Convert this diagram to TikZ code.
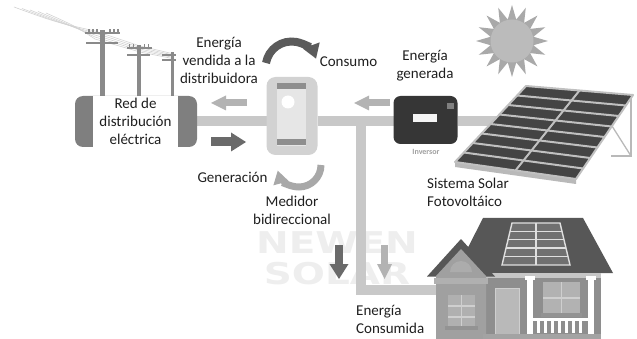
\documentclass[tikz,border=0pt]{standalone}
\usepackage{fontspec}
\setmainfont{Carlito}
\newfontfamily\markfont{DejaVu Sans}
\usetikzlibrary{arrows.meta,calc,backgrounds,shapes.geometric}

\definecolor{ink}{HTML}{1F1F1F}
\definecolor{busgray}{HTML}{C8C8C8}
\definecolor{gridend}{HTML}{7F7F7F}
\definecolor{polegray}{HTML}{8A8A8A}
\definecolor{meterout}{HTML}{D2D2D2}
\definecolor{meterin}{HTML}{E6E6E6}
\definecolor{meterbar}{HTML}{8E8E8E}
\definecolor{arrdark}{HTML}{6A6A6A}
\definecolor{arrlight}{HTML}{B3B3B3}
\definecolor{curvedark}{HTML}{5B5B5B}
\definecolor{curvelight}{HTML}{A8A8A8}
\definecolor{invcol}{HTML}{363636}
\definecolor{cellgray}{HTML}{444444}
\definecolor{panelline}{HTML}{C0C0C0}
\definecolor{sunray}{HTML}{A9A9A9}
\definecolor{suncore}{HTML}{BBBBBB}
\definecolor{roofgray}{HTML}{575757}
\definecolor{wallwing}{HTML}{A0A0A0}
\definecolor{wallmain}{HTML}{8E8E8E}
\definecolor{markgray}{HTML}{EEEEEE}

\begin{document}
\begin{tikzpicture}[x=1pt,y=-1pt,
  lbl/.style={font=\fontsize{15}{18}\selectfont, text=ink, inner sep=0pt, align=center},
  lbll/.style={lbl, align=left, anchor=west},
  flow/.style={draw=busgray, line width=10pt},
  thinarrow/.style={draw=arrlight, line width=7pt, -{Triangle[length=15pt,width=15pt,line width=0pt]}},
  thickarrow/.style={draw=arrdark, line width=9pt, -{Triangle[length=15pt,width=19pt,line width=0pt]}},
  box/.style={inner sep=0pt, outer sep=0pt},
  wire/.style={draw=gray!35, line width=0.6pt},
  cellline/.style={draw=panelline, line width=2pt},
  roofline/.style={draw=gray!25, line width=1.4pt},
  markstyle/.style={font=\markfont\bfseries\fontsize{30}{30}\selectfont, text=markgray, inner sep=0pt},
]
\useasboundingbox (0,0) rectangle (637,339);

% ---------- power poles and wires ----------
\foreach \i in {0,...,4}{
  \draw[wire] ({14+8*\i},{7+1.5*\i}) .. controls ({55+5*\i},{22+\i}) .. ({95},{31+2*\i}) -- (140,{46+1.5*\i}) -- (174,{54+1.2*\i});
}
\fill[polegray] (100,30) rectangle (105,97);
\fill[polegray] (85,32) rectangle (120,34.5);
\fill[polegray] (86,42) rectangle (118,44.5);
\fill[polegray] (137,45) rectangle (141,97);
\fill[polegray] (127,47) rectangle (152,49);
\fill[polegray] (127,54) rectangle (150,56);
\fill[polegray] (171,52) rectangle (174,97);
\fill[polegray] (162,54.5) rectangle (176,56.5);
\fill[polegray] (162,59.5) rectangle (176,61.5);
\foreach \x in {88,92,96,109,113,117}{\fill[polegray] (\x,29) rectangle (\x+1.5,32);}
\foreach \x in {129,133,144,148}{\fill[polegray] (\x,44.5) rectangle (\x+1.3,47);}

% ---------- grid box ----------
\node[box, fill=gridend, rounded corners=8pt, minimum width=122pt, minimum height=51pt] (grid) at (136,121.5) {};
\node[box, fill=white, minimum width=85pt, minimum height=51pt, lbl] (gridlbl) at (135.5,121.5) {Red de\\distribución\\eléctrica};

% ---------- bidirectional meter ----------
\node[box, fill=meterout, rounded corners=9pt, minimum width=51pt, minimum height=78pt] (meter) at (292,116) {};
\fill[meterin] (277,83) rectangle (306,146);
\fill[meterbar] (277,83) rectangle (306,89);
\fill[meterbar] (277,139) rectangle (306,145);
\fill[white] (288,102) circle[radius=6.5];

% ---------- inverter ----------
\node[box, fill=invcol, rounded corners=7pt, minimum width=64pt, minimum height=48pt] (inv) at (425.5,120) {};
\fill[white!92!gray] (413,114) rectangle (437,122);
\fill[gray] (447,103) rectangle (454,109);
\node[box, font=\bfseries\fontsize{8}{8}\selectfont, text=gray!75] (invlbl) at (426,152) {Inversor};

% ---------- sun ----------
\node[box, star, star points=16, star point ratio=1.65, minimum size=72pt, fill=sunray] (sunrays) at (512,41) {};
\node[box, circle, fill=suncore, minimum size=43pt] (sun) at (512,41) {};

% ---------- solar array ----------
\coordinate (pTL) at (526,86);
\coordinate (pTR) at (633,95);
\coordinate (pBR) at (576,179);
\coordinate (pBL) at (455,162);
\coordinate (panW) at (497,121.5);
\draw[gray!55, line width=1.3pt] (631,96) -- (631,156) -- (611,156);
\draw[gray!55, line width=1.3pt] (612,126) -- (631,156);
\fill[gray!55] (pBL) -- (pBR) -- ($(pBR)+(0,5)$) -- ($(pBL)+(0,5)$) -- cycle;
\fill[cellgray] (pTL) -- (pTR) -- (pBR) -- (pBL) -- cycle;
\foreach \v [evaluate=\v as \f using \v/8] in {1,...,7}{
  \draw[cellline] ($(pTL)!\f!(pBL)$) -- ($(pTR)!\f!(pBR)$);
}
\draw[cellline] ($(pTL)!0.5!(pTR)$) -- ($(pBL)!0.5!(pBR)$);
\draw[cellline, line join=round] (pTL) -- (pTR) -- (pBR) -- (pBL) -- cycle;

% ---------- house ----------
\coordinate (houseW) at (445,290);
\fill[roofgray] (483,218) -- (583,218) -- (613,273) -- (455,273) -- cycle;
\fill[wallmain] (485,273) rectangle (601,339);
\fill[gray!45] (486,273) rectangle (601,278);
\fill[roofgray] (427,276.5) -- (461,239) -- (495,276.5) -- cycle;
\fill[wallwing] (436,339) -- (436,276) -- (461,249) -- (486,276) -- (486,339) -- cycle;
\fill[gray!65] (450,272) arc[start angle=180, end angle=360, radius=11] -- cycle;
\fill[gray!62] (434,278) rectangle (488,284);
% left window
\fill[gray!62] (448,295) rectangle (475,327);
\draw[gray!38, line width=1.4pt] (461.5,295) -- (461.5,327) (448,306) -- (475,306) (448,317) -- (475,317);
\fill[gray!85] (445,326) rectangle (478,330);
% door
\fill[gray!55] (495,288) rectangle (519,336);
\draw[gray!38, line width=1pt] (495,288) rectangle (519,336);
% porch window
\fill[gray!60] (543,282) rectangle (580,314);
\draw[gray!38, line width=1.4pt] (561.5,282) -- (561.5,314) (543,298) -- (580,298);
\fill[gray!85] (541,313) rectangle (582,317);
% porch columns and railing
\fill[white] (525,276) rectangle (535,280);
\fill[white] (586,276) rectangle (596,280);
\fill[white] (527,280) rectangle (533,334);
\fill[white] (588,280) rectangle (594,334);
\fill[white] (533,318) rectangle (588,321);
\foreach \x in {537,544,...,584}{\fill[white] (\x,321) rectangle (\x+2.5,333);}
\fill[gray!72] (483,334) rectangle (601,339);
% roof-top solar panel
\coordinate (rTL) at (512,223);
\coordinate (rTR) at (560,223);
\coordinate (rBR) at (570,265);
\coordinate (rBL) at (502,265);
\fill[gray!88!black] (rTL) -- (rTR) -- (rBR) -- (rBL) -- cycle;
\foreach \v [evaluate=\v as \f using \v/5] in {1,...,4}{
  \draw[roofline] ($(rTL)!\f!(rBL)$) -- ($(rTR)!\f!(rBR)$);
}
\draw[roofline] ($(rTL)!0.5!(rTR)$) -- ($(rBL)!0.5!(rBR)$);
\draw[roofline] (rTL) -- (rTR) -- (rBR) -- (rBL) -- cycle;

% ---------- power flow bus ----------
\coordinate (tee) at (361,121.5);
\begin{scope}[on background layer]
  \node[markstyle] (mark1) at (337,243) {\scalebox{1.3}[1]{NEWEN}};
  \node[markstyle] (mark2) at (337,274) {\scalebox{1.3}[1]{SOLAR}};
  \draw[flow] (grid.east) -- (meter.west |- grid.east);
  \draw[flow] (meter.east |- grid.east) -- (inv.west |- grid.east);
  \draw[flow] (inv.east |- grid.east) -- (panW);
  \draw[flow] (tee) |- (houseW);
\end{scope}

% ---------- flow arrows ----------
\coordinate (a1s) at (247,103);  \coordinate (a1e) at (211,103);
\coordinate (a2s) at (211,142);  \coordinate (a2e) at (246,142);
\coordinate (a3s) at (390,103);  \coordinate (a3e) at (354,103);
\coordinate (a4s) at (339,245);  \coordinate (a4e) at (339,279);
\coordinate (a5s) at (384.5,245); \coordinate (a5e) at (384.5,279);
\draw[thinarrow] (a1s) -- (a1e);
\draw[thickarrow] (a2s) -- (a2e);
\draw[thinarrow] (a3s) -- (a3e);
\draw[thickarrow, line width=8pt] (a4s) -- (a4e);
\draw[thinarrow] (a5s) -- (a5e);

% curved arrows around the meter
\coordinate (ctop) at (266,63);
\coordinate (cbot) at (321,165);
\draw[draw=curvedark, line width=8pt, -{Triangle[length=14pt,width=18pt,line width=0pt]}]
  (ctop) arc[start angle=190, end angle=340, radius=26];
\draw[draw=curvelight, line width=7pt, -{Triangle[length=13pt,width=16pt,line width=0pt]}]
  (cbot) arc[start angle=0, end angle=165, radius=22];

% ---------- labels ----------
\node[lbl] (vendida) at (219,60) {Energía\\vendida a la\\distribuidora};
\node[lbl] (consumo) at (348.5,62) {Consumo};
\node[lbl] (generada) at (425,66) {Energía\\generada};
\node[lbl] (generacion) at (232.5,177) {Generación};
\node[lbl] (medidor) at (292,210) {Medidor\\bidireccional};
\node[lbll] (sistema) at (427,192.5) {Sistema Solar\\Fotovoltáico};
\node[lbll] (consumida) at (356,319) {Energía\\Consumida};
\end{tikzpicture}
\end{document}
